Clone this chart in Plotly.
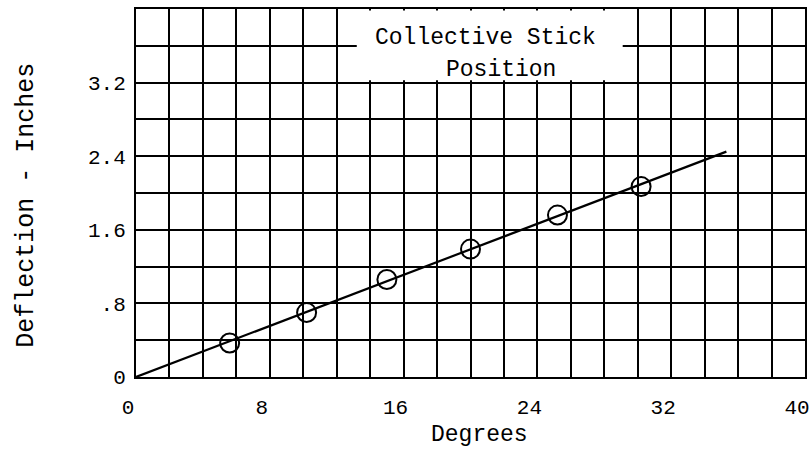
import plotly.graph_objects as go

# Data
degrees = [5.6, 10.2, 15.0, 20.0, 25.2, 30.2]
deflection = [0.37, 0.70, 1.06, 1.39, 1.76, 2.07]
fit_x = [0.0, 35.3]
fit_y = [0.0, 2.45]

x_tickvals = [0, 8, 16, 24, 32, 40]
x_ticktext = ["0", "8", "16", "24", "32", "40"]
y_tickvals = [0, 0.8, 1.6, 2.4, 3.2]
y_ticktext = ["0", ".8", "1.6", "2.4", "3.2"]

FONT = "Liberation Mono, Courier New, monospace"
INK = "#000000"

fig = go.Figure()
fig.add_trace(go.Scatter(x=fit_x, y=fit_y, mode="lines",
                         line=dict(color=INK, width=2.2), showlegend=False))
fig.add_trace(go.Scatter(x=degrees, y=deflection, mode="markers",
                         marker=dict(symbol="circle-open", size=19, color=INK,
                                     line=dict(width=2, color=INK)),
                         showlegend=False))

axis_common = dict(showgrid=True, gridcolor=INK, gridwidth=2,
                   showline=True, linecolor=INK, linewidth=2, mirror=True,
                   zeroline=False, ticks="outside", tickcolor="white",
                   automargin=False, ticklabeloverflow="allow",
                   tickfont=dict(family=FONT, size=21, color=INK))

fig.update_xaxes(range=[0, 40], tickvals=x_tickvals, ticktext=x_ticktext,
                 ticklen=10, ticklabelshift=-8,
                 minor=dict(tick0=0, dtick=2, showgrid=True, gridcolor=INK,
                            gridwidth=2, ticks=""),
                 **axis_common)
fig.update_yaxes(range=[0, 4.0], tickvals=y_tickvals, ticktext=y_ticktext,
                 ticklen=4,
                 minor=dict(tick0=0, dtick=0.4, showgrid=True, gridcolor=INK,
                            gridwidth=2, ticks=""),
                 **axis_common)

# white label box erasing part of the grid
fig.add_shape(type="rect", xref="x", yref="y", x0=13.2, x1=29.1, y0=3.225, y1=3.985,
              fillcolor="white", line=dict(width=0), layer="above")

fig.add_annotation(x=20.9, y=3.69, xref="x", yref="y", text="Collective Stick",
                   showarrow=False, font=dict(family=FONT, size=23, color=INK))
fig.add_annotation(x=21.8, y=3.34, xref="x", yref="y", text="Position",
                   showarrow=False, font=dict(family=FONT, size=23, color=INK))

fig.add_annotation(x=0.514, y=-0.157, xref="paper", yref="paper", text="Degrees",
                   showarrow=False, xanchor="center", yanchor="middle",
                   font=dict(family=FONT, size=23, color=INK))
fig.add_annotation(x=-0.163, y=0.468, xref="paper", yref="paper",
                   text="Deflection - Inches", textangle=-90,
                   showarrow=False, xanchor="center", yanchor="middle",
                   font=dict(family=FONT, size=25, color=INK))

fig.update_layout(width=810, height=466,
                  margin=dict(l=136, r=5, t=9, b=89),
                  paper_bgcolor="white", plot_bgcolor="white")

fig.write_html("out.html", config={"displayModeBar": False},
               post_script="document.body.style.margin='0';document.body.style.overflow='hidden';")
